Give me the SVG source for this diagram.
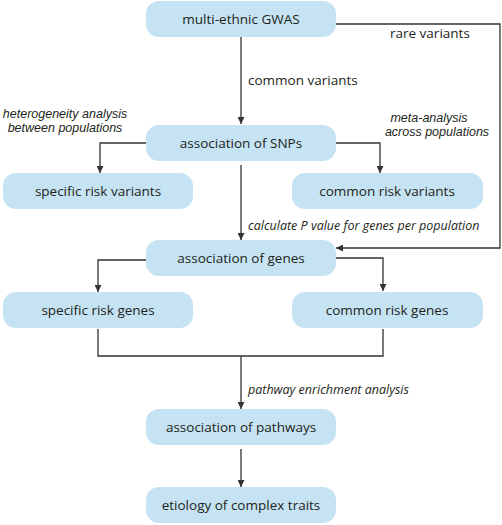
<svg xmlns="http://www.w3.org/2000/svg" width="502" height="525" viewBox="0 0 502 525">
<style>
.box{fill:#c5e3f2;stroke:none}
.t{font-family:"Open Sans","Liberation Sans",sans-serif;font-size:13.5px;fill:#231f20;text-anchor:middle}
.l{font-family:"Open Sans","Liberation Sans",sans-serif;font-size:13.5px;fill:#231f20}
.i{font-family:"Open Sans","Liberation Sans",sans-serif;font-size:12.5px;font-style:italic;fill:#231f20}
.i2{font-family:"Liberation Sans",Arial,sans-serif;font-size:12.5px;font-style:italic;fill:#231f20;text-anchor:middle}
.c{fill:none;stroke:#333;stroke-width:1.3}
</style>
<defs>
<marker id="ah" viewBox="0 0 10 10" refX="10" refY="5" markerWidth="7" markerHeight="7" markerUnits="userSpaceOnUse" orient="auto">
<path d="M0,0 L10,5 L0,10 z" fill="#333"/>
</marker>
</defs>
<g id="connectors">
<path class="c" d="M241,37 V124" marker-end="url(#ah)"/>
<path class="c" d="M336,24 H500 V248 H336" marker-end="url(#ah)"/>
<path class="c" d="M146,143 H100 V173" marker-end="url(#ah)"/>
<path class="c" d="M336,143 H380 V173" marker-end="url(#ah)"/>
<path class="c" d="M241,165 V240" marker-end="url(#ah)"/>
<path class="c" d="M146,260 H98 V292" marker-end="url(#ah)"/>
<path class="c" d="M336,258 H383 V291" marker-end="url(#ah)"/>
<path class="c" d="M98,329 V356 H383 V329"/>
<path class="c" d="M241,356 V409" marker-end="url(#ah)"/>
<path class="c" d="M241,449 V487" marker-end="url(#ah)"/>
<text class="l" x="390" y="38">rare variants</text>
<text class="l" x="248" y="85">common variants</text>
<text class="i2" x="65" y="118">heterogeneity analysis</text>
<text class="i2" x="65" y="132">between populations</text>
<text class="i2" x="429" y="122">meta-analysis</text>
<text class="i2" x="437" y="136">across populations</text>
<text class="i" x="248" y="230">calculate P value for genes per population</text>
<text class="i" x="248" y="394">pathway enrichment analysis</text>
</g>
<g id="n1"><rect class="box" x="146" y="1" width="190" height="36" rx="13"/><text class="t" x="241" y="24">multi-ethnic GWAS</text></g>
<g id="n2"><rect class="box" x="146" y="125" width="190" height="36" rx="13"/><text class="t" x="241" y="148">association of SNPs</text></g>
<g id="n3"><rect class="box" x="3" y="173" width="190" height="36" rx="13"/><text class="t" x="98" y="196">specific risk variants</text></g>
<g id="n4"><rect class="box" x="292" y="173" width="191" height="36" rx="13"/><text class="t" x="387" y="196">common risk variants</text></g>
<g id="n5"><rect class="box" x="146" y="240" width="190" height="36" rx="13"/><text class="t" x="241" y="263">association of genes</text></g>
<g id="n6"><rect class="box" x="3" y="292" width="190" height="36" rx="13"/><text class="t" x="98" y="315">specific risk genes</text></g>
<g id="n7"><rect class="box" x="292" y="292" width="191" height="36" rx="13"/><text class="t" x="387" y="315">common risk genes</text></g>
<g id="n8"><rect class="box" x="146" y="409" width="190" height="36" rx="13"/><text class="t" x="241" y="432">association of pathways</text></g>
<g id="n9"><rect class="box" x="146" y="487" width="190" height="36" rx="13"/><text class="t" x="241" y="510">etiology of complex traits</text></g>
</svg>
